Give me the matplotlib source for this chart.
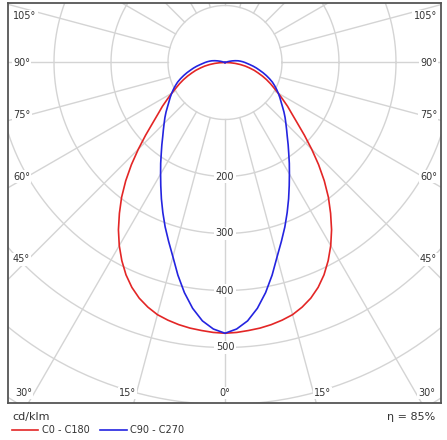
import numpy as np
import matplotlib
matplotlib.use("Agg")
import matplotlib.pyplot as plt

# Luminous intensity (cd/klm) vs. gamma angle (2.5 deg steps), symmetric curves
gamma_c0 = [0, 2.5, 5, 7.5, 10, 12.5, 15, 17.5, 20, 22.5, 25, 27.5, 30, 32.5, 35, 37.5,
            40, 42.5, 45, 47.5, 50, 52.5, 55, 57.5, 60, 62.5, 65, 67.5, 70, 72.5, 75,
            77.5, 80, 82.5, 85, 87.5, 90]
c0_c180 = [475, 474, 472, 470, 467, 463, 458, 450, 440, 427, 411, 392, 371, 348, 323, 298,
           271, 243, 215, 189, 166, 148, 134, 120, 108, 97, 88, 79, 70, 61, 53,
           44, 36, 27, 18, 9, 0]

gamma_c90 = [0, 2.5, 5, 7.5, 10, 12.5, 15, 17.5, 20, 22.5, 25, 27.5, 30, 32.5, 35, 37.5,
             40, 42.5, 45, 47.5, 50, 52.5, 55, 57.5, 60, 62.5, 65, 67.5, 70, 72.5, 75,
             77.5, 80, 82.5, 85, 87.5, 90, 92.5, 95, 97.5, 100, 102.5, 105, 107.5, 110]
c90_c270 = [475, 468, 455, 435, 410, 382, 353, 329, 307, 285, 264, 244, 226, 210, 195, 182,
            170, 160, 151, 143, 135, 127, 120, 114, 108, 102, 96, 90, 83, 76, 69,
            62, 56, 50, 44, 39, 35, 31, 27, 23, 18, 13, 8, 4, 0]

ring_values = [100, 200, 300, 400, 500, 600, 700, 800]
ring_labels = [200, 300, 400, 500]
spoke_angles = np.arange(0, 360, 15)
eta = 85

# pixel geometry of the reference
CX, CY, S = 225.0, 62.5, 0.57   # centre in px, px per cd/klm
W, H = 447, 440


def px(x, y):
    return (x - CX) / S, (CY - y) / S


fig = plt.figure(figsize=(W / 100, H / 100), dpi=100)
ax = fig.add_axes([8 / W, (H - 403) / H, 433 / W, 400 / H])
x0, y1 = px(8, 3)
x1, y0 = px(441, 403)
ax.set_xlim(x0, x1)
ax.set_ylim(y0, y1)
ax.set_xticks([])
ax.set_yticks([])
for sp in ax.spines.values():
    sp.set_color("#555555")
    sp.set_linewidth(1.3)

grid = "#d4d4d4"
t = np.linspace(0, 2 * np.pi, 400)
for r in ring_values:
    ax.plot(r * np.cos(t), r * np.sin(t), color=grid, lw=1.0, zorder=1)
for a in spoke_angles:
    ar = np.deg2rad(a)
    ax.plot([100 * np.sin(ar), 1200 * np.sin(ar)], [-100 * np.cos(ar), -1200 * np.cos(ar)],
            color=grid, lw=1.0, zorder=1)


def draw(g, v, color, label):
    g = np.deg2rad(np.array(g))
    v = np.array(v)
    xs = np.concatenate([-(v * np.sin(g))[::-1], (v * np.sin(g))[1:]])
    ys = np.concatenate([(-v * np.cos(g))[::-1], (-v * np.cos(g))[1:]])
    ax.plot(xs, ys, color=color, lw=1.2, zorder=4, label=label)


draw(gamma_c0, c0_c180, "#e32626", "C0 - C180")
draw(gamma_c90, c90_c270, "#2424e0", "C90 - C270")

box = dict(facecolor="white", edgecolor="none", pad=1.0)
tc = "#333333"
for v in ring_labels:
    ax.text(0, -v, str(v), ha="center", va="center", fontsize=7, color=tc, bbox=box, zorder=3)

side = [(105, 16), (90, 62.5), (75, 115), (60, 176.5), (45, 259.5)]
for a, py in side:
    ax.text(*px(13, py), f"{a}°", ha="left", va="center", fontsize=7, color=tc, bbox=box, zorder=3)
    ax.text(*px(437, py), f"{a}°", ha="right", va="center", fontsize=7, color=tc, bbox=box, zorder=3)
ax.text(*px(15, 393), "30°", ha="left", va="center", fontsize=7, color=tc, bbox=box, zorder=3)
ax.text(*px(435, 393), "30°", ha="right", va="center", fontsize=7, color=tc, bbox=box, zorder=3)
for xx, lab in [(127.5, "15°"), (225, "0°"), (322.5, "15°")]:
    ax.text(*px(xx, 393), lab, ha="center", va="center", fontsize=7, color=tc, bbox=box, zorder=3)

# footer
fig.text(12 / W, 1 - 417 / H, "cd/klm", ha="left", va="center", fontsize=8, color=tc)
fig.text(435 / W, 1 - 417 / H, f"η = {eta}%", ha="right", va="center", fontsize=8, color=tc)
fig.lines.append(plt.Line2D([12 / W, 38 / W], [1 - 430 / H] * 2, color="#e32626", lw=1.2,
                            transform=fig.transFigure))
fig.text(42 / W, 1 - 430 / H, "C0 - C180", ha="left", va="center", fontsize=7, color=tc)
fig.lines.append(plt.Line2D([100 / W, 127 / W], [1 - 430 / H] * 2, color="#2424e0", lw=1.2,
                            transform=fig.transFigure))
fig.text(130 / W, 1 - 430 / H, "C90 - C270", ha="left", va="center", fontsize=7, color=tc)

fig.savefig("out.png", dpi=100)
